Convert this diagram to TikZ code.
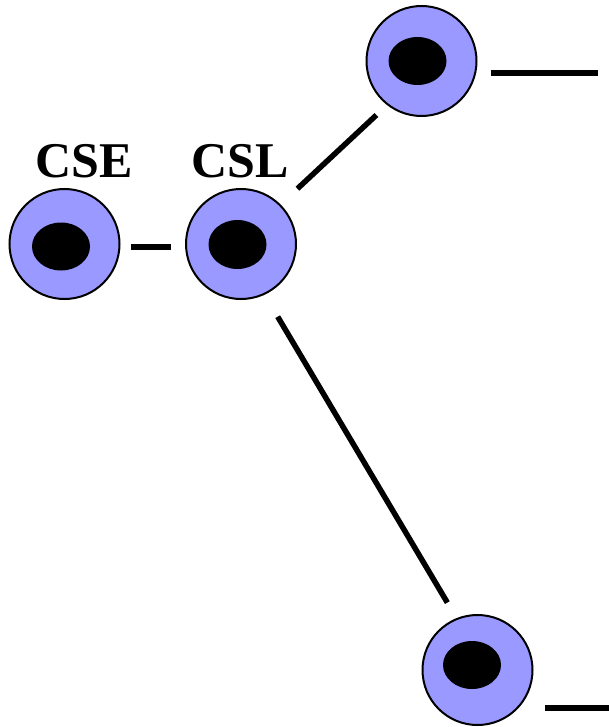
\documentclass[tikz,border=0pt]{standalone}
\usepackage{fontspec}
\setmainfont{Liberation Serif}
\definecolor{cellblue}{RGB}{153,153,255}
\begin{document}
\begin{tikzpicture}[x=1pt,y=-1pt,
  cell/.style={circle,draw=black,line width=2pt,fill=cellblue,minimum size=110pt,inner sep=0pt},
  nucleus/.style={fill=black},
  link/.style={line width=5.5pt},
  tag/.style={font=\bfseries\fontsize{50}{50}\selectfont,anchor=base,inner sep=0pt}]
  \useasboundingbox (0,0) rectangle (609,727);

  % cells
  \node[cell] (cse) at (64.5,244) {};
  \node[cell] (csl) at (241,244) {};
  \node[cell] (top) at (421.5,61) {};
  \node[cell] (bot) at (477.5,670) {};

  % nuclei
  \fill[nucleus] ([shift={(-3.5,2.5)}]cse.center) ellipse (29 and 24);
  \fill[nucleus] ([shift={(-3.5,0.5)}]csl.center) ellipse (29 and 24.5);
  \fill[nucleus] ([shift={(-4,0)}]top.center) ellipse (29 and 24);
  \fill[nucleus] ([shift={(-5.5,-5)}]bot.center) ellipse (29 and 24);

  % labels
  \node[tag] (lcse) at (84,178) {CSE};
  \node[tag] (lcsl) at (240.5,178) {CSL};

  % free ends
  \coordinate (topend) at (598,73);
  \coordinate (botend) at (609,708);

  % connectors
  \draw[link,shorten <=10pt,shorten >=14pt] ([yshift=-3pt]cse.east) -- ([yshift=-3pt]csl.west);
  \draw[link,shorten <=23pt,shorten >=14.5pt] (csl.45) -- (top.232);
  \draw[link,shorten <=25.5pt,shorten >=18pt] (csl.-65) -- (bot.112);
  \draw[link,shorten <=13pt] (top.east |- topend) -- (topend);
  \draw[link,shorten <=11pt] (bot.east |- botend) -- (botend);
\end{tikzpicture}
\end{document}
